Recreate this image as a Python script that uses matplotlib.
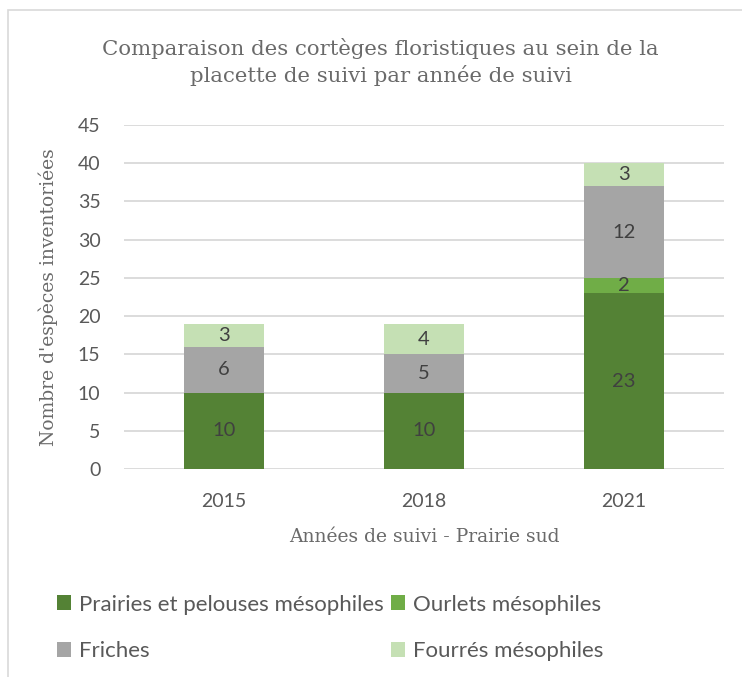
import matplotlib.pyplot as plt
from matplotlib.patches import Rectangle

years = ["2015", "2018", "2021"]
prairies = [10, 10, 23]
ourlets = [0, 0, 2]
friches = [6, 5, 12]
fourres = [3, 4, 3]

series = [
    ("Prairies et pelouses mésophiles", prairies, "#548235"),
    ("Ourlets mésophiles", ourlets, "#70AD47"),
    ("Friches", friches, "#A5A5A5"),
    ("Fourrés mésophiles", fourres, "#C5E0B4"),
]

TXT = "#595959"
SERIF = "DejaVu Serif"
SANS = "Lato"

fig = plt.figure(figsize=(7.42, 6.77), dpi=100)

# outer chart border (right and bottom are cut off in the original)
fig.patches.append(Rectangle((8 / 742, -0.1), 1.2, 1 - 10 / 677 + 0.1,
                             transform=fig.transFigure, fill=False,
                             edgecolor="#d9d9d9", lw=1.2))

ax = fig.add_axes([124 / 742, 1 - 469 / 677, 600 / 742, 344 / 677])

x = range(len(years))
bottom = [0] * len(years)
handles = {}
for name, vals, color in series:
    bars = ax.bar(x, vals, 0.4, bottom=bottom, color=color, label=name, zorder=2)
    handles[name] = bars
    for i, v in enumerate(vals):
        if v:
            ax.text(i, bottom[i] + v / 2, str(v), ha="center", va="center",
                    fontsize=14.5, color="#404040", family=SANS)
    bottom = [b + v for b, v in zip(bottom, vals)]

ax.set_xlim(-0.5, 2.5)
ax.set_ylim(0, 45)
ax.set_yticks(range(0, 46, 5))
ax.set_xticks(list(x))
ax.set_xticklabels(years)
ax.grid(axis="y", color="#d9d9d9", lw=1.3, zorder=0)
ax.set_axisbelow(True)
for s in ax.spines.values():
    s.set_visible(False)
ax.tick_params(length=0, labelsize=14, labelcolor=TXT)
ax.tick_params(axis="y", pad=17)
ax.tick_params(axis="x", pad=17)
for lbl in ax.get_xticklabels() + ax.get_yticklabels():
    lbl.set_family(SANS)

ax.set_xlabel("Années de suivi - Prairie sud", family=SERIF, fontsize=13.5,
              color="#6a6a6a", labelpad=13)
ax.set_ylabel("Nombre d'espèces inventoriées", family=SERIF, fontsize=13.5,
              color="#6a6a6a", labelpad=14)

fig.text(0.513, 1 - 62 / 677,
         "Comparaison des cortèges floristiques au sein de la\nplacette de suivi par année de suivi",
         ha="center", va="center", family=SERIF, fontsize=15.3, color="#6a6a6a",
         linespacing=1.4)

order = ["Prairies et pelouses mésophiles", "Friches",
         "Ourlets mésophiles", "Fourrés mésophiles"]
leg = fig.legend([handles[n] for n in order], order, ncol=2,
                 loc="center left", bbox_to_anchor=(37 / 742, 1 - 628 / 677),
                 frameon=False, prop={"family": SANS, "size": 16},
                 handlelength=0.65, handleheight=0.65, handletextpad=0.35,
                 columnspacing=0.3, labelspacing=1.2)
for t in leg.get_texts():
    t.set_color(TXT)

fig.savefig("out.png", dpi=100)
